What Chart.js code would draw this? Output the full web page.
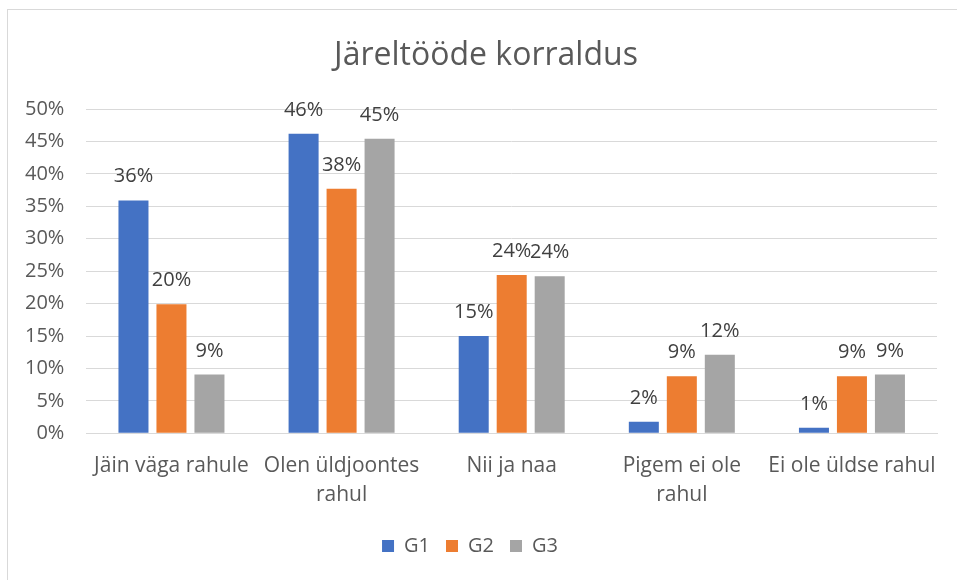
<!DOCTYPE html>
<html>
<head>
<meta charset="utf-8">
<script src="https://cdn.jsdelivr.net/npm/chart.js@4.4.0/dist/chart.umd.min.js"></script>
<style>
  body { margin: 0; background: #fff; }
  #wrap { position: relative; width: 957px; height: 580px; overflow: hidden; }
  #frame { position: absolute; left: 7px; top: 9px; width: 1000px; height: 700px; border: 1px solid #d9d9d9; }
  canvas { position: absolute; left: 0; top: 0; }
</style>
</head>
<body>
<div id="wrap">
  <div id="frame"></div>
  <canvas id="myChart" width="957" height="580"></canvas>
</div>
<script>
let categories = [['Jäin väga rahule'], ['Olen üldjoontes', 'rahul'], ['Nii ja naa'], ['Pigem ei ole', 'rahul'], ['Ei ole üldse rahul']];
let g1 = [35.9, 46.2, 15.0, 1.8, 0.85];
let g2 = [19.9, 37.7, 24.4, 8.8, 8.8];
let g3 = [9.05, 45.4, 24.2, 12.1, 9.05];
let seriesNames = ['G1', 'G2', 'G3'];
let colors = ['#4472C4', '#ED7D31', '#A5A5A5'];
let chartTitle = 'Järeltööde korraldus';

let fontName = "'Open Sans', 'Noto Sans', sans-serif";

// value above each bar, plus the title (centred on the whole frame, not the canvas)
let valueLabels = {
    id: 'valueLabels',
    afterDatasetsDraw(chart) {
        let c = chart.ctx;
        c.save();
        c.font = '20px ' + fontName;
        c.fillStyle = '#404040';
        c.textAlign = 'center';
        c.textBaseline = 'alphabetic';
        chart.data.datasets.forEach((ds, i) => {
            chart.getDatasetMeta(i).data.forEach((bar, j) => {
                c.fillText(Math.round(ds.data[j]) + '%', bar.x, bar.y - 18);
            });
        });
        c.font = '32px ' + fontName;
        c.fillStyle = '#595959';
        c.textBaseline = 'middle';
        c.fillText(chartTitle, 486, 56);
        c.restore();
    }
};

let ctx = document.getElementById('myChart').getContext('2d');
let myChart = new Chart(ctx, {
    type: 'bar',
    data: {
        labels: categories,
        datasets: [g1, g2, g3].map((d, i) => ({
            label: seriesNames[i],
            data: d,
            backgroundColor: colors[i],
            categoryPercentage: 0.67,
            barPercentage: 0.79
        }))
    },
    options: {
        responsive: false,
        animation: false,
        layout: { padding: { left: 3, right: 20, top: 109, bottom: 14 } },
        scales: {
            x: {
                grid: { display: false },
                border: { color: '#d9d9d9' },
                ticks: {
                    color: '#595959',
                    font: { family: fontName, size: 21, lineHeight: 1.35 },
                    padding: 11,
                    maxRotation: 0,
                    autoSkip: false
                }
            },
            y: {
                min: 0,
                max: 50,
                grid: { color: '#d9d9d9', drawTicks: false },
                border: { display: false },
                ticks: {
                    stepSize: 5,
                    color: '#595959',
                    font: { family: fontName, size: 20 },
                    padding: 22,
                    callback: function(value) {
                        return value + '%';
                    }
                }
            }
        },
        plugins: {
            title: { display: false },
            legend: {
                position: 'bottom',
                labels: {
                    boxWidth: 12,
                    boxHeight: 12,
                    color: '#595959',
                    font: { family: fontName, size: 20 },
                    padding: 16
                }
            },
            tooltip: { enabled: false }
        }
    },
    plugins: [valueLabels]
});
</script>
</body>
</html>
